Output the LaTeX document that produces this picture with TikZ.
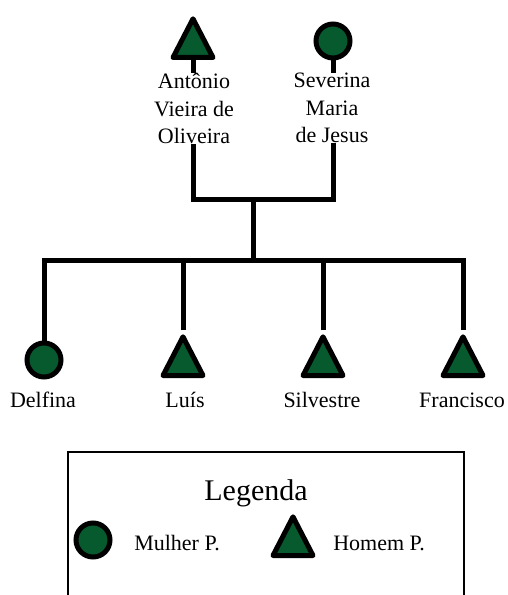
\documentclass[tikz,border=0pt]{standalone}
\usepackage{fontspec}
\setmainfont{Liberation Serif}
\usetikzlibrary{shapes.geometric}
\definecolor{verde}{RGB}{6,90,46}
\tikzset{
	mulher/.style={circle,draw,fill=verde,line width=3.75pt,minimum size=25.5pt,inner sep=0pt},
	homem/.style={isosceles triangle,isosceles triangle stretches,shape border rotate=90,draw,fill=verde,line width=3.75pt,line join=round,minimum width=30pt,minimum height=29pt,inner sep=0pt,anchor=south},
	ligacao/.style={line width=3.75pt},
	nome/.style={font=\rmfamily\fontsize{16.5}{20.6}\selectfont,align=center,fill=white,inner sep=0pt}
}

\begin{document}
\begin{tikzpicture}[x=0.75pt,y=-0.75pt]
	\useasboundingbox (0,0) rectangle (507,595);
	\clip (0,0) rectangle (507,595);
	%pais
	\node[homem] (antonio) at (193,60) {};
	\node[mulher] (severina) at (333,41) {};
	\coordinate (casal) at (253,200);
	\coordinate (filhos) at (253,260);
	%filhos
	\node[mulher] (delfina) at (44,360) {};
	\node[homem] (luis) at (183,378) {};
	\node[homem] (silvestre) at (323,378) {};
	\node[homem] (francisco) at (463,378) {};
	%ligacoes
	\draw[ligacao] (antonio.south) |- (casal) -| (severina.south);
	\draw[ligacao] (casal) -- (filhos);
	\draw[ligacao] (delfina.north) |- (filhos) -| (francisco.north);
	\draw[ligacao] (luis.north) -- (luis.north |- filhos);
	\draw[ligacao] (silvestre.north) -- (silvestre.north |- filhos);
	%nomes
	\node[nome,anchor=north] (nantonio) at (194,73) {Antônio\\Vieira de\\Oliveira};
	\node[nome,anchor=north] (nseverina) at (332,73) {Severina\\Maria\\de Jesus};
	\node[nome,anchor=base] (ndelfina) at (43,407) {Delfina};
	\node[nome,anchor=base] (nluis) at (185,407) {Luís};
	\node[nome,anchor=base] (nsilvestre) at (322,407) {Silvestre};
	\node[nome,anchor=base] (nfrancisco) at (462,407) {Francisco};
	%legenda
	\draw[line width=1.1pt] (68,600) |- (464,452) -- (464,600);
	\node[font=\rmfamily\fontsize{22.5}{27}\selectfont,anchor=base] (legenda) at (256,500) {Legenda};
	\node[mulher] (lmulher) at (93,540) {};
	\node[nome,anchor=base west] (tmulher) at (134,550) {Mulher P.};
	\node[homem] (lhomem) at (293,558) {};
	\node[nome,anchor=base west] (thomem) at (333,550) {Homem P.};
\end{tikzpicture}
\end{document}
